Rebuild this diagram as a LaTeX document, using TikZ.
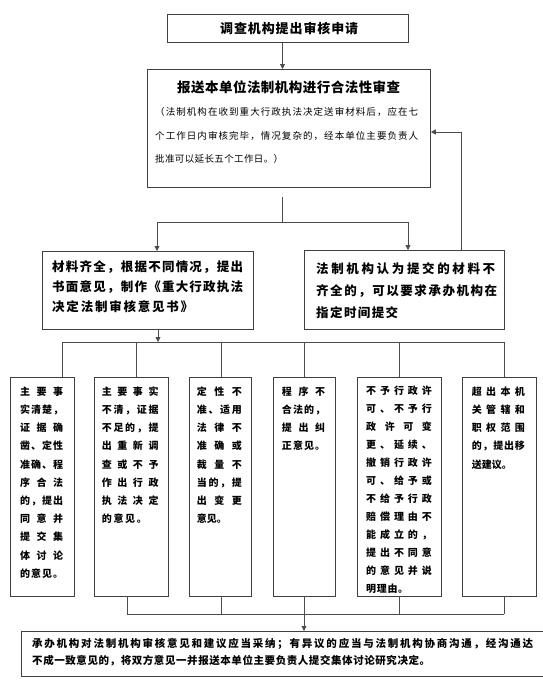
\documentclass[tikz,border=0pt]{standalone}
\usepackage{fontspec}
\setmainfont{Noto Sans CJK SC}
\usetikzlibrary{arrows.meta}
\def\spfirst#1{#1\sprest}
\def\sprest#1{\ifx#1\relax\else\hfil#1\expandafter\sprest\fi}
\newcommand\sline[2]{\hbox to #1pt{\spfirst#2\relax}}
\newcommand\vlines[2]{\vtop{\baselineskip=#1pt\lineskiplimit=-\maxdimen\lineskip=0pt #2}}
\tikzset{
  box/.style={draw=black!75, line width=0.8pt, inner sep=0pt, anchor=north west},
  ln/.style={draw=black!70, line width=0.8pt},
  arr/.style={ln, -{Triangle[length=5pt,width=5pt]}},
  txt/.style={inner sep=0pt, anchor=base west},
}
\begin{document}
\begin{tikzpicture}[x=1pt,y=-1pt]
\useasboundingbox (0,0) rectangle (542,681);
% boxes
\node[box, minimum width=241.3pt, minimum height=27.7pt] (top) at (166.7,14) {};
\node[box, minimum width=283.3pt, minimum height=117.5pt] (review) at (146.7,69) {};
\node[box, minimum width=210.1pt, minimum height=77.5pt] (left) at (42.4,251) {};
\node[box, minimum width=200pt, minimum height=78.5pt] (right) at (304,250) {};
\node[box, minimum width=64pt, minimum height=218.5pt] (b1) at (10,377) {};
\node[box, minimum width=74pt, minimum height=218.5pt] (b2) at (94,377) {};
\node[box, minimum width=62pt, minimum height=218.5pt] (b3) at (189,377) {};
\node[box, minimum width=62pt, minimum height=218.5pt] (b4) at (273,377) {};
\node[box, minimum width=84pt, minimum height=218.5pt] (b5) at (357,377) {};
\node[box, minimum width=74pt, minimum height=218.5pt] (b6) at (462,377) {};
\node[box, minimum width=527pt, minimum height=45pt] (final) at (21,631) {};
% texts
\node[txt, font=\fontsize{13}{15}\selectfont\bfseries] (ttop) at (220,33) {\sline{138}{调查机构提出审核申请}};
\node[txt, font=\fontsize{13.5}{15}\selectfont\bfseries] (trev) at (177,92) {\sline{223}{报送本单位法制机构进行合法性审查}};
\node[txt, font=\fontsize{9.5}{11}\selectfont] (trevs) at (155,115.6) {\vlines{23.5}{%
  \sline{263}{（法制机构在收到重大行政执法决定送审材料后，应在七}
  \sline{263}{个工作日内审核完毕，情况复杂的，经本单位主要负责人}
  \sline{128}{批准可以延长五个工作日。）}}};
\node[txt, font=\fontsize{12.5}{14}\selectfont\bfseries] (tleft) at (52,271) {\vlines{20.2}{%
  \sline{191}{材料齐全，根据不同情况，提出}
  \sline{191}{书面意见，制作《重大行政执法}
  \sline{141}{决定法制审核意见书》}}};
\node[txt, font=\fontsize{12.5}{14}\selectfont\bfseries] (tright) at (316,273.8) {\vlines{22}{%
  \sline{179}{法制机构认为提交的材料不}
  \sline{181}{齐全的，可以要求承办机构在}
  \sline{82}{指定时间提交}}};
\tikzset{stxt/.style={txt, font=\fontsize{10}{12}\selectfont\bfseries}}
\node[stxt] (tb1) at (20,395.3) {\vlines{18.2}{%
  \sline{43}{主要事}\sline{43}{实清楚，}\sline{43}{证据确}\sline{43}{凿、定性}
  \sline{43}{准确、程}\sline{43}{序合法}\sline{43}{的，提出}\sline{43}{同意并}
  \sline{43}{提交集}\sline{43}{体讨论}\sline{43}{的意见。}}};
\node[stxt] (tb2) at (101.7,395.3) {\vlines{18.2}{%
  \sline{56.6}{主要事实}\sline{56.6}{不清，证据}\sline{56.6}{不足的，提}\sline{56.6}{出重新调}
  \sline{56.6}{查或不予}\sline{56.6}{作出行政}\sline{56.6}{执法决定}\sline{45}{的意见。}}};
\node[stxt] (tb3) at (196.7,395.3) {\vlines{18.2}{%
  \sline{45}{定性不}\sline{45}{准、适用}\sline{45}{法律不}\sline{45}{准确或}
  \sline{45}{裁量不}\sline{45}{当的，提}\sline{45}{出变更}\sline{30}{意见。}}};
\node[stxt] (tb4) at (281.7,395.3) {\vlines{18.2}{%
  \sline{43.3}{程序不}\sline{43.3}{合法的，}\sline{43.3}{提出纠}\sline{43.3}{正意见。}}};
\node[stxt] (tb5) at (366,394) {\vlines{18}{%
  \sline{65.7}{不予行政许}\sline{65.7}{可、不予行}\sline{65.7}{政许可变}\sline{65.7}{更、延续、}
  \sline{65.7}{撤销行政许}\sline{65.7}{可、给予或}\sline{65.7}{不给予行政}\sline{65.7}{赔偿理由不}
  \sline{65.7}{能成立的，}\sline{65.7}{提出不同意}\sline{65.7}{的意见并说}\sline{42}{明理由。}}};
\node[stxt] (tb6) at (471.7,395.3) {\vlines{18.2}{%
  \sline{53}{超出本机}\sline{53}{关管辖和}\sline{53}{职权范围}\sline{53}{的，提出移}\sline{38}{送建议。}}};
\node[txt, font=\fontsize{10.5}{12}\selectfont\bfseries] (tfin) at (32,647) {\vlines{17}{%
  \sline{501}{承办机构对法制机构审核意见和建议应当采纳；有异议的应当与法制机构协商沟通，经沟通达}
  \sline{398}{不成一致意见的，将双方意见一并报送本单位主要负责人提交集体讨论研究决定。}}};
% coordinates
\coordinate (xa) at (282.5,0);
\coordinate (jm) at (282.7,222);
\coordinate (xl) at (157,0);
\coordinate (xr) at (408,0);
\coordinate (fb) at (461,132);
\coordinate (jt) at (158,342);
\coordinate (bus2) at (0,614);
\coordinate (d1) at (62,0);
\coordinate (d2) at (136,0);
\coordinate (d3) at (221,0);
\coordinate (d4) at (304,0);
\coordinate (d5) at (399,0);
\coordinate (d6) at (504,0);
\coordinate (e2) at (127,0);
% connectors
\draw[arr] (top.south -| xa) -- (review.north -| xa);
\draw[ln, shorten <=10pt] (review.south -| jm) -- (jm);
\draw[ln] (jm -| xl) -- (jm -| xr);
\draw[arr] (jm -| xl) -- (left.north -| xl);
\draw[arr] (jm -| xr) -- (right.north -| xr);
\draw[arr] (right.north -| fb) |- (review.east |- fb);
\draw[arr] (left.south -| jt) -- (jt);
\draw[ln] (jt -| d1) -- (jt -| d6);
\draw[ln] (jt -| d1) -- (b1.north -| d1);
\draw[ln] (jt -| d2) -- (b2.north -| d2);
\draw[ln] (jt -| d3) -- (b3.north -| d3);
\draw[ln] (jt -| d4) -- (b4.north -| d4);
\draw[ln] (jt -| d5) -- (b5.north -| d5);
\draw[ln] (jt -| d6) -- (b6.north -| d6);
\draw[ln] (bus2 -| e2) -- (bus2 -| d6);
\draw[ln] (b2.south -| e2) -- (bus2 -| e2);
\draw[ln] (b3.south -| d3) -- (bus2 -| d3);
\draw[ln] (b5.south -| d5) -- (bus2 -| d5);
\draw[ln] (b6.south -| d6) -- (bus2 -| d6);
\draw[arr] (b4.south -| d4) -- (final.north -| d4);
\end{tikzpicture}
\end{document}
